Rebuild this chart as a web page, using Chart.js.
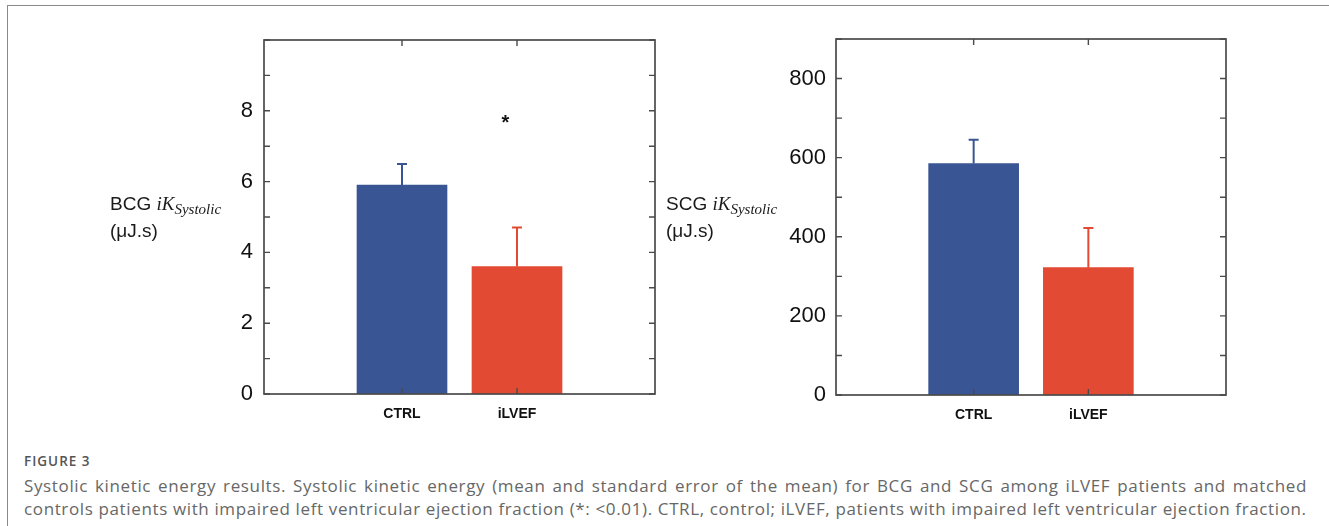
<!DOCTYPE html>
<html>
<head>
<meta charset="utf-8">
<script src="https://cdn.jsdelivr.net/npm/chart.js@4.4.1/dist/chart.umd.min.js"></script>
<style>
  html, body { margin: 0; padding: 0; background: #ffffff; }
  body { width: 1329px; height: 526px; position: relative; overflow: hidden; font-family: "Liberation Sans", Arial, sans-serif; }
  #frame { position: absolute; left: 7px; top: 5px; width: 1340px; height: 540px; border-top: 1.5px solid #8a8a8a; border-left: 1.5px solid #8a8a8a; }
  canvas { position: absolute; }
  .ylab { position: absolute; font-family: "Liberation Sans", Arial, sans-serif; font-size: 19px; line-height: 25px; color: #1a1a1a; white-space: nowrap; }
  .ylab i { font-family: "Liberation Serif", "Times New Roman", serif; font-style: italic; font-size: 19px; }
  .ylab .sub { font-family: "Liberation Serif", "Times New Roman", serif; font-style: italic; font-size: 15px; position: relative; top: 4px; }
  #figlabel { position: absolute; left: 24px; top: 452px; font-family: "Open Sans", sans-serif; font-weight: 600; font-size: 13.5px; color: #555555; letter-spacing: 1px; }
  .cap { position: absolute; left: 24px; width: 1283px; font-family: "Open Sans", sans-serif; font-size: 17px; letter-spacing: 0.63px; color: #676767; }
  #cap1 { top: 474px; text-align: justify; text-align-last: justify; }
  #cap2 { top: 497px; white-space: nowrap; }
</style>
</head>
<body>
<div id="frame"></div>
<canvas id="bcg" width="480" height="410" style="left:190px; top:30px;"></canvas>
<canvas id="scg" width="480" height="412" style="left:760px; top:30px;"></canvas>
<div class="ylab" style="left:110px; top:191px;">BCG <i>iK</i><span class="sub">Systolic</span><br>(μJ.s)</div>
<div class="ylab" style="left:666px; top:191px;">SCG <i>iK</i><span class="sub">Systolic</span><br>(μJ.s)</div>
<div id="figlabel">FIGURE 3</div>
<div class="cap" id="cap1">Systolic kinetic energy results. Systolic kinetic energy (mean and standard error of the mean) for BCG and SCG among iLVEF patients and matched</div>
<div class="cap" id="cap2">controls patients with impaired left ventricular ejection fraction (*: &lt;0.01). CTRL, control; iLVEF, patients with impaired left ventricular ejection fraction.</div>
<script>
// ---- data ----
const categories = ['CTRL', 'iLVEF'];
const categoryPositions = [1, 2];
const barColors = ['#3a5594', '#e24a33'];

const bcgMeans = [5.9, 3.6];
const bcgSem = [0.6, 1.1];
const bcgTickLabels = [0, 2, 4, 6, 8];

const scgMeans = [585, 322];
const scgSem = [60, 100];
const scgTickLabels = [0, 200, 400, 600, 800];

// significance marker (data coordinates of BCG panel)
const bcgStar = { x: 1.9, y: 7.8, text: '*' };

// ---- plugins ----
const boxPlugin = {
  id: 'boxPlugin',
  afterDatasetsDraw(chart, args, opts) {
    const ctx = chart.ctx;
    const a = chart.chartArea;
    const xs = chart.scales.x, ys = chart.scales.y;
    ctx.save();
    // error bars (upper SEM whisker)
    const meta = chart.getDatasetMeta(0);
    const ds = chart.data.datasets[0];
    meta.data.forEach((el, i) => {
      const top = ys.getPixelForValue(ds.data[i].y + opts.sem[i]);
      ctx.strokeStyle = barColors[i];
      ctx.lineWidth = 2;
      ctx.beginPath();
      ctx.moveTo(el.x, el.y);
      ctx.lineTo(el.x, top);
      ctx.moveTo(el.x - 5, top);
      ctx.lineTo(el.x + 5, top);
      ctx.stroke();
    });
    // box
    ctx.strokeStyle = '#4a4a4a';
    ctx.lineWidth = 1.7;
    ctx.strokeRect(a.left, a.top, a.right - a.left, a.bottom - a.top);
    // inward ticks
    ctx.lineWidth = 1.4;
    ctx.beginPath();
    ys.ticks.forEach(t => {
      const y = ys.getPixelForValue(t.value);
      ctx.moveTo(a.left, y); ctx.lineTo(a.left + 6, y);
      ctx.moveTo(a.right, y); ctx.lineTo(a.right - 6, y);
    });
    xs.ticks.forEach(t => {
      const x = xs.getPixelForValue(t.value);
      ctx.moveTo(x, a.bottom); ctx.lineTo(x, a.bottom - 6);
      ctx.moveTo(x, a.top); ctx.lineTo(x, a.top + 6);
    });
    ctx.stroke();
    // star annotation
    if (opts.star) {
      ctx.fillStyle = '#111';
      ctx.font = 'bold 20px "Liberation Sans", Arial, sans-serif';
      ctx.textAlign = 'center';
      ctx.textBaseline = 'alphabetic';
      ctx.fillText(opts.star.text, xs.getPixelForValue(opts.star.x), ys.getPixelForValue(opts.star.y) + 11);
    }
    ctx.restore();
  }
};

function makeChart(id, means, sem, yMax, yStep, tickLabels, yWidth, xHeight, padding, labelPad, star) {
  return new Chart(document.getElementById(id), {
    type: 'bar',
    data: {
      datasets: [{
        data: means.map((v, i) => ({ x: categoryPositions[i], y: v })),
        backgroundColor: barColors,
        borderWidth: 0,
        barThickness: 90
      }]
    },
    options: {
      responsive: false,
      animation: false,
      devicePixelRatio: 1,
      layout: { padding: padding },
      plugins: {
        legend: { display: false },
        tooltip: { enabled: false },
        boxPlugin: { sem: sem, star: star }
      },
      scales: {
        x: {
          type: 'linear',
          offset: false,
          min: -0.2,
          max: 3.2,
          grid: { display: false, drawTicks: false, offset: false },
          border: { display: false },
          afterBuildTicks: s => { s.ticks = categoryPositions.map(v => ({ value: v })); },
          afterFit: s => { s.height = xHeight; s.paddingLeft = 0; s.paddingRight = 0; },
          ticks: {
            autoSkip: false,
            maxRotation: 0,
            padding: 12,
            color: '#111',
            font: { family: '"Liberation Sans", Arial, sans-serif', size: 14, weight: 'bold' },
            callback: v => categories[categoryPositions.indexOf(v)]
          }
        },
        y: {
          min: 0,
          max: yMax,
          grid: { display: false, drawTicks: false },
          border: { display: false },
          afterFit: s => { s.width = yWidth; s.paddingTop = 0; s.paddingBottom = 0; },
          ticks: {
            stepSize: yStep,
            autoSkip: false,
            padding: labelPad,
            color: '#111',
            font: { family: '"Liberation Sans", Arial, sans-serif', size: 22 },
            callback: v => tickLabels.includes(v) ? String(v) : ''
          }
        }
      }
    },
    plugins: [boxPlugin]
  });
}

makeChart('bcg', bcgMeans, bcgSem, 10, 1, bcgTickLabels, 74, 46, { left: 0, top: 10, right: 15, bottom: 0 }, 11, bcgStar);
makeChart('scg', scgMeans, scgSem, 900, 100, scgTickLabels, 76, 47, { left: 0, top: 9, right: 14, bottom: 0 }, 10, null);
</script>
</body>
</html>
